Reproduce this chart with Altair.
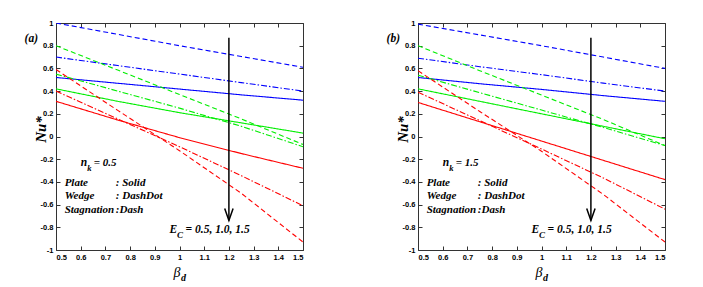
import altair as alt
import pandas as pd

# ---------------- data ----------------
X = [0.5, 0.75, 1.0, 1.25, 1.5]
EC = ["0.5", "1.0", "1.5"]
GEOM = ["Plate", "Wedge", "Stagnation"]
COLORS = ["#0000ff", "#00ee00", "#ff0000"]

# panel (a), n_k = 0.5
a_plate_05 = [0.52, 0.469, 0.418, 0.367, 0.32]
a_plate_10 = [0.42, 0.31, 0.21, 0.12, 0.03]
a_plate_15 = [0.31, 0.145, -0.01, -0.15, -0.28]
a_wedge_05 = [0.70, 0.625, 0.55, 0.475, 0.40]
a_wedge_10 = [0.55, 0.40, 0.25, 0.09, -0.09]
a_wedge_15 = [0.40, 0.155, -0.09, -0.345, -0.61]
a_stag_05 = [1.00, 0.90, 0.80, 0.705, 0.61]
a_stag_10 = [0.80, 0.585, 0.37, 0.155, -0.07]
a_stag_15 = [0.59, 0.23, -0.125, -0.50, -0.93]

# panel (b), n_k = 1.5
b_plate_05 = [0.52, 0.465, 0.415, 0.36, 0.31]
b_plate_10 = [0.42, 0.31, 0.20, 0.09, -0.02]
b_plate_15 = [0.30, 0.13, -0.04, -0.21, -0.38]
b_wedge_05 = [0.69, 0.615, 0.545, 0.47, 0.40]
b_wedge_10 = [0.54, 0.386, 0.233, 0.08, -0.08]
b_wedge_15 = [0.39, 0.14, -0.11, -0.365, -0.64]
b_stag_05 = [0.99, 0.895, 0.80, 0.70, 0.60]
b_stag_10 = [0.80, 0.58, 0.365, 0.15, -0.08]
b_stag_15 = [0.58, 0.22, -0.13, -0.51, -0.93]

XTICKS = [0.5, 0.6, 0.7, 0.8, 0.9, 1.0, 1.1, 1.2, 1.3, 1.4, 1.5]
YTICKS = [-1, -0.8, -0.6, -0.4, -0.2, 0, 0.2, 0.4, 0.6, 0.8, 1]

# arrow (E_C increasing)
ARROW_X = [1.2]
ARROW_TOP = [0.87]
ARROW_TIP = [-0.74]

# annotations (data coordinates)
TAGS = ["(a)", "(b)"]
NK_VALUES = ["= 0.5", "= 1.5"]
TAG_POS = (0.40, 0.86)
NK_POS = (0.60, -0.23)
LEG_LABELS = ["Plate", "Wedge", "Stagnation"]
LEG_VALUES = [": Solid", ": DashDot", ":Dash"]
LEG_Y = [-0.41, -0.525, -0.645]
LEG_X_LABEL = 0.535
LEG_X_VALUE = 0.742
EC_POS = (0.96, -0.824)
EC_TEXT = "= 0.5, 1.0, 1.5"
BETA_POS = (0.99, -1.203)

SERIF = "Liberation Serif, Times New Roman, Times, DejaVu Serif, serif"
SANS = "Liberation Sans, Arial, Helvetica, sans-serif"


def make_df(series):
    rows = []
    for (geom, ec), vals in series.items():
        for x, y in zip(X, vals):
            rows.append({"x": x, "y": y, "Geometry": geom, "Ec": ec,
                         "key": geom + ec})
    return pd.DataFrame(rows)


LABEL_EXPR = "datum.value == 0 ? '0' : toString(round(datum.value*10)/10)"


def text_layer(df, size, dx=0, dy=0, align="left", bold=True, italic=True):
    return alt.Chart(df).mark_text(
        font=SERIF, fontSize=size, fontWeight="bold" if bold else "normal",
        fontStyle="italic" if italic else "normal", align=align,
        baseline="middle", dx=dx, dy=dy, color="black"
    ).encode(
        x=alt.X("x:Q", axis=None), y=alt.Y("y:Q", axis=None), text="t:N"
    )


def panel(series, tag, nk_value):
    xs = alt.Scale(domain=[0.5, 1.5], nice=False, zero=False)
    ys = alt.Scale(domain=[-1, 1], nice=False, zero=False)

    ax_bottom = alt.Axis(orient="bottom", values=XTICKS, offset=-4, tickSize=4,
                         domain=False, grid=False, labelExpr=LABEL_EXPR,
                         labelPadding=3, title=None)
    ax_left = alt.Axis(orient="left", values=YTICKS, offset=-4, tickSize=4,
                       domain=False, grid=False, labelExpr=LABEL_EXPR,
                       labelPadding=3, title="Nu*", titleFont=SERIF,
                       titleFontStyle="italic", titleFontWeight="bold",
                       titleFontSize=15, titleX=-12, titleY=106,
                       titleAngle=270, titleBaseline="bottom", titleColor="black")
    ax_top = alt.Axis(orient="top", values=XTICKS, offset=-4, tickSize=4,
                      domain=False, grid=False, labels=False, title=None)
    ax_right = alt.Axis(orient="right", values=YTICKS, offset=-4, tickSize=4,
                        domain=False, grid=False, labels=False, title=None)

    df = make_df(series)
    lines = alt.Chart(df).mark_line(strokeWidth=1.1, clip=True).encode(
        x=alt.X("x:Q", scale=xs, axis=ax_bottom),
        y=alt.Y("y:Q", scale=ys, axis=ax_left),
        color=alt.Color("Ec:N", scale=alt.Scale(domain=EC, range=COLORS), legend=None),
        strokeDash=alt.StrokeDash("Geometry:N", scale=alt.Scale(
            domain=GEOM, range=[[1, 0], [6, 2, 1.5, 2], [5, 3]]), legend=None),
        detail="key:N",
    )

    adf = pd.DataFrame({"ax": ARROW_X, "atop": ARROW_TOP, "atip": ARROW_TIP})
    arrow = alt.Chart(adf).mark_rule(strokeWidth=1.5, color="black").encode(
        x=alt.X("ax:Q", scale=xs, axis=ax_top),
        y=alt.Y("atop:Q", scale=ys, axis=ax_right),
        y2="atip:Q",
    )
    head = alt.Chart(adf).mark_point(
        shape="M-0.35,-1L0,0L0.35,-1", size=576, filled=False,
        strokeWidth=1.5, color="black", opacity=1
    ).encode(
        x=alt.X("ax:Q", scale=xs, axis=None),
        y=alt.Y("atip:Q", scale=ys, axis=None),
    )

    def one(x, y, t):
        return pd.DataFrame({"x": [x], "y": [y], "t": [t]})

    texts = [
        text_layer(one(TAG_POS[0], TAG_POS[1], tag), 11.5, align="center"),
        text_layer(one(NK_POS[0], NK_POS[1], "n"), 11.5),
        text_layer(one(NK_POS[0], NK_POS[1], "k"), 8.5, dx=6.5, dy=5),
        text_layer(one(NK_POS[0], NK_POS[1], nk_value), 11, dx=13),
        text_layer(pd.DataFrame({"x": [LEG_X_LABEL] * 3, "y": LEG_Y, "t": LEG_LABELS}), 11),
        text_layer(pd.DataFrame({"x": [LEG_X_VALUE] * 3, "y": LEG_Y, "t": LEG_VALUES}), 11),
        text_layer(one(EC_POS[0], EC_POS[1], "E"), 11.5),
        text_layer(one(EC_POS[0], EC_POS[1], "C"), 9, dx=7.5, dy=5),
        text_layer(one(EC_POS[0], EC_POS[1], EC_TEXT), 11.5, dx=16),
        text_layer(one(BETA_POS[0], BETA_POS[1], "β"), 14, align="center", bold=False),
        text_layer(one(BETA_POS[0], BETA_POS[1], "d"), 10, dx=4, dy=5),
    ]

    return alt.layer(lines, arrow, head, *texts).resolve_axis(
        x="independent", y="independent"
    ).properties(width=247, height=227)


series_a = {
    ("Plate", "0.5"): a_plate_05, ("Plate", "1.0"): a_plate_10, ("Plate", "1.5"): a_plate_15,
    ("Wedge", "0.5"): a_wedge_05, ("Wedge", "1.0"): a_wedge_10, ("Wedge", "1.5"): a_wedge_15,
    ("Stagnation", "0.5"): a_stag_05, ("Stagnation", "1.0"): a_stag_10, ("Stagnation", "1.5"): a_stag_15,
}
series_b = {
    ("Plate", "0.5"): b_plate_05, ("Plate", "1.0"): b_plate_10, ("Plate", "1.5"): b_plate_15,
    ("Wedge", "0.5"): b_wedge_05, ("Wedge", "1.0"): b_wedge_10, ("Wedge", "1.5"): b_wedge_15,
    ("Stagnation", "0.5"): b_stag_05, ("Stagnation", "1.0"): b_stag_10, ("Stagnation", "1.5"): b_stag_15,
}

chart = alt.hconcat(
    panel(series_a, TAGS[0], NK_VALUES[0]),
    panel(series_b, TAGS[1], NK_VALUES[1]),
    spacing=82,
).properties(
    padding={"left": 16, "top": 10, "right": 0, "bottom": 0}
).configure_view(
    stroke="#333333", strokeWidth=1
).configure_axis(
    labelFont=SANS, labelFontWeight="bold", labelFontSize=7.5, labelColor="black",
    tickColor="#333333", tickWidth=1
)

chart.save("out.html", embed_options={"renderer": "svg", "actions": False})
